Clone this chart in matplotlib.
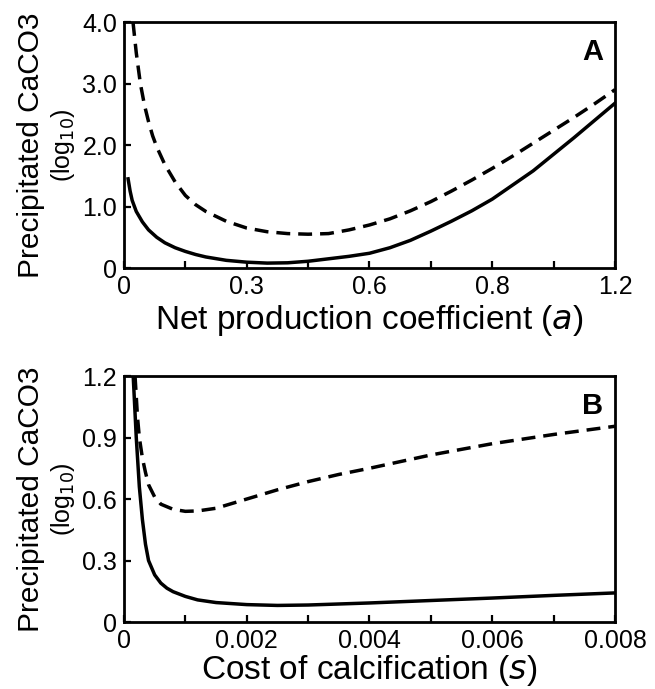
import matplotlib.pyplot as plt

plt.rcParams['font.family'] = ['Liberation Sans', 'DejaVu Sans']

# panel A: net production coefficient (a)
a_solid = [0.01, 0.015, 0.02, 0.03, 0.045, 0.06, 0.08, 0.1, 0.125, 0.15, 0.175, 0.2, 0.25, 0.3, 0.35,
           0.4, 0.45, 0.5, 0.55, 0.6, 0.65, 0.7, 0.75, 0.8, 0.85, 0.9, 0.95, 1.0, 1.05, 1.1, 1.15, 1.2]
caco3_a_solid = [1.45, 1.25, 1.1, 0.92, 0.75, 0.62, 0.5, 0.41, 0.33, 0.27, 0.22, 0.18, 0.125, 0.095, 0.08,
                 0.085, 0.11, 0.15, 0.19, 0.24, 0.33, 0.45, 0.6, 0.76, 0.93, 1.12, 1.35, 1.58, 1.85, 2.12, 2.4, 2.68]
a_dashed = [0.022, 0.03, 0.04, 0.05, 0.06, 0.07, 0.08, 0.1, 0.125, 0.15, 0.175, 0.2, 0.25, 0.3, 0.35, 0.4,
            0.45, 0.5, 0.55, 0.6, 0.65, 0.7, 0.75, 0.8, 0.85, 0.9, 0.95, 1.0, 1.05, 1.1, 1.15, 1.2]
caco3_a_dashed = [4.0, 3.5, 3.0, 2.65, 2.38, 2.15, 1.97, 1.68, 1.4, 1.18, 1.03, 0.92, 0.76, 0.65, 0.59, 0.56,
                  0.55, 0.56, 0.62, 0.7, 0.8, 0.93, 1.08, 1.25, 1.43, 1.62, 1.82, 2.03, 2.24, 2.45, 2.67, 2.9]

# panel B: cost of calcification (s)
s_solid = [0.00015, 0.00018, 0.0002, 0.00025, 0.0003, 0.00035, 0.0004, 0.0005, 0.0006, 0.0007, 0.0008,
           0.001, 0.0012, 0.0015, 0.002, 0.0025, 0.003, 0.004, 0.005, 0.006, 0.007, 0.008]
caco3_s_solid = [1.2, 1.02, 0.9, 0.66, 0.5, 0.38, 0.3, 0.23, 0.19, 0.165, 0.148,
                 0.125, 0.108, 0.095, 0.085, 0.081, 0.083, 0.093, 0.105, 0.117, 0.13, 0.142]
s_dashed = [0.00018, 0.00022, 0.00025, 0.0003, 0.00035, 0.0004, 0.0005, 0.0006, 0.0008, 0.001, 0.0012,
            0.0015, 0.002, 0.0025, 0.003, 0.0035, 0.004, 0.005, 0.006, 0.007, 0.008]
caco3_s_dashed = [1.2, 1.0, 0.9, 0.8, 0.73, 0.67, 0.61, 0.575, 0.55, 0.54, 0.542,
                  0.555, 0.6, 0.645, 0.685, 0.72, 0.75, 0.815, 0.87, 0.915, 0.955]

a_ticks = [0, 0.3, 0.6, 0.9, 1.2]
a_ticklabels = ['0', '0.3', '0.6', '0.8', '1.2']
a_yticks = [0, 1, 2, 3, 4]
a_yticklabels = ['0', '1.0', '2.0', '3.0', '4.0']
s_ticks = [0, 0.002, 0.004, 0.006, 0.008]
s_ticklabels = ['0', '0.002', '0.004', '0.006', '0.008']
s_yticks = [0, 0.3, 0.6, 0.9, 1.2]
s_yticklabels = ['0', '0.3', '0.6', '0.9', '1.2']

fig = plt.figure(figsize=(6.55, 6.89), dpi=100)
ax1 = fig.add_axes([0.1893, 0.611, 0.7496, 0.357])
ax2 = fig.add_axes([0.1893, 0.0972, 0.7496, 0.357])

dash = (0, (4.0, 2.3))


def style(ax, xmax, xt, xtl, xminor, ymax, yt, ytl, xlabel, letter, pad):
    ax.set_xlim(0, xmax)
    ax.set_ylim(0, ymax)
    ax.set_xticks(xt)
    ax.set_xticklabels(xtl)
    ax.set_xticks(xminor, minor=True)
    ax.set_yticks(yt)
    ax.set_yticklabels(ytl)
    ax.tick_params(which='both', direction='in', width=1.6, length=5, labelsize=18, pad=5)
    for sp in ax.spines.values():
        sp.set_linewidth(2)
    ax.set_xlabel(xlabel, fontsize=24, labelpad=pad)
    ax.text(-0.19, 0.5, 'Precipitated CaCO3', rotation=90, fontsize=21.5,
            ha='center', va='center', transform=ax.transAxes)
    ax.text(-0.125, 0.5, '(log$_{10}$)', rotation=90, fontsize=18,
            ha='center', va='center', transform=ax.transAxes)
    ax.text(0.955, 0.88, letter, fontsize=21, fontweight='bold',
            ha='center', va='center', transform=ax.transAxes)


ax1.plot(a_solid, caco3_a_solid, color='black', lw=2.5)
ax1.plot(a_dashed, caco3_a_dashed, color='black', lw=2.5, linestyle=dash)
style(ax1, 1.2, a_ticks, a_ticklabels, [0.15, 0.45, 0.75, 1.05], 4.0, a_yticks, a_yticklabels,
      'Net production coefficient ($\\it{a}$)', 'A', 3)

ax2.plot(s_solid, caco3_s_solid, color='black', lw=2.5)
ax2.plot(s_dashed, caco3_s_dashed, color='black', lw=2.5, linestyle=dash)
style(ax2, 0.008, s_ticks, s_ticklabels, [0.001, 0.003, 0.005, 0.007], 1.2, s_yticks, s_yticklabels,
      'Cost of calcification ($\\it{s}$)', 'B', 0)

fig.savefig('out.png', dpi=100)
